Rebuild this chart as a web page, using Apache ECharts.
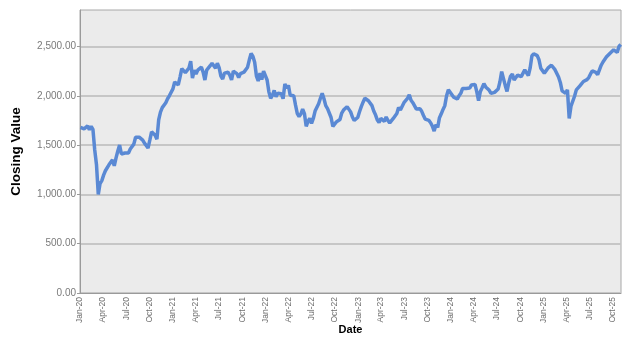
<!DOCTYPE html>
<html><head><meta charset="utf-8">
<script src="https://cdn.jsdelivr.net/npm/echarts@6/dist/echarts.min.js"></script>
<style>html,body{margin:0;padding:0;background:#fff}#c{width:632px;height:339px}</style>
</head><body><div id="c"></div>
<script>
// Weekly closing values (Fridays) starting 2020-01-03
const firstWeek = '2020-01-03';
const weeklyClose = [
1680,1690,1665,1675,1695,1655,1690,1660,1450,1300,
1000,1110,1140,1195,1240,1220,1300,1290,1350,1290,
1370,1440,1500,1410,1410,1420,1420,1420,1460,1480,
1510,1580,1578,1580,1585,1550,1520,1495,1470,1550,
1635,1620,1600,1560,1757,1835,1880,1892,1930,1970,
2000,1990,2070,2140,2150,2110,2190,2275,2270,2235,
2220,2280,2350,2180,2260,2220,2260,2260,2290,2240,
2160,2260,2260,2305,2330,2315,2280,2330,2285,2200,
2170,2230,2240,2238,2210,2160,2250,2262,2225,2185,
2225,2210,2240,2245,2290,2365,2430,2400,2340,2200,
2150,2230,2165,2250,2250,2160,2040,1975,2005,2055,
1990,2025,2010,2020,1970,2120,2078,2105,2005,1985,
2000,1905,1820,1790,1815,1865,1820,1690,1740,1770,
1720,1770,1845,1845,1920,1975,2025,1970,1900,1870,
1890,1780,1690,1680,1735,1735,1760,1825,1855,1873,
1890,1875,1837,1785,1750,1730,1780,1838,1890,1935,
1975,1982,1950,1957,1900,1845,1807,1755,1730,1770,
1750,1740,1785,1750,1725,1745,1770,1783,1820,1880,
1855,1865,1930,1912,1973,2010,1955,1930,1928,1865,
1852,1868,1842,1800,1763,1768,1750,1727,1693,1642,
1706,1680,1778,1817,1862,1900,2000,2060,2035,2010,
1985,1985,1967,2000,2025,2075,2055,2075,2062,2078,
2110,2100,2115,2040,1950,2044,2082,2123,2090,2073,
2055,2025,2018,2035,2044,2068,2140,2245,2250,2105,
2044,2132,2198,2220,2160,2140,2210,2222,2195,2210,
2262,2245,2205,2280,2404,2426,2425,2407,2365,2280,
2265,2230,2225,2280,2285,2310,2298,2265,2278,2190,
2135,2050,2050,2025,2060,1770,1895,1880,1995,2060,
2050,2100,2097,2145,2130,2164,2185,2222,2252,2250,
2238,2215,2225,2310,2343,2362,2395,2414,2432,2449,
2466,2460,2440,2500,2520
];
const tickDates = [
'2020-01-01','2020-04-01','2020-07-01','2020-10-01',
'2021-01-01','2021-04-01','2021-07-01','2021-10-01',
'2022-01-01','2022-04-01','2022-07-01','2022-10-01',
'2023-01-01','2023-04-01','2023-07-01','2023-10-01',
'2024-01-01','2024-04-01','2024-07-01','2024-10-01',
'2025-01-01','2025-04-01','2025-07-01','2025-10-01'
];
const tickLabels = [
'Jan-20','Apr-20','Jul-20','Oct-20','Jan-21','Apr-21','Jul-21','Oct-21',
'Jan-22','Apr-22','Jul-22','Oct-22','Jan-23','Apr-23','Jul-23','Oct-23',
'Jan-24','Apr-24','Jul-24','Oct-24','Jan-25','Apr-25','Jul-25','Oct-25'
];
const axisStart = '2020-01-01';
const axisEnd = '2025-11-01';
const yTicks = [0, 500, 1000, 1500, 2000, 2500];

function ts(s){ const p = s.split('-').map(Number); return Date.UTC(p[0], p[1]-1, p[2]); }
const DAY = 86400000;
const t0 = ts(firstWeek);
const seriesData = weeklyClose.map((v, i) => [t0 + i*7*DAY, v]);
const tickTs = tickDates.map(ts);
const labelMap = {};
tickTs.forEach((t, i) => { labelMap[t] = tickLabels[i]; });

const FONT = "Arial, 'Liberation Sans', sans-serif";
const chart = echarts.init(document.getElementById('c'), null, {renderer: 'canvas'});
chart.setOption({
  animation: false,
  backgroundColor: '#ffffff',
  grid: {
    left: 80, right: 11, top: 10, bottom: 46,
    outerBoundsMode: 'none', containLabel: false,
    show: true, backgroundColor: '#ebebeb', borderColor: '#a8a8a8', borderWidth: 1
  },
  xAxis: {
    type: 'value',
    min: ts(axisStart), max: ts(axisEnd),
    name: 'Date', nameLocation: 'middle', nameGap: 31, nameMoveOverlap: false,
    nameTextStyle: {fontFamily: FONT, fontWeight: 'bold', fontSize: 11, color: '#000'},
    axisLine: {show: true, lineStyle: {color: '#9a9a9a', width: 1}},
    axisTick: {show: false},
    splitLine: {show: false},
    axisLabel: {
      customValues: tickTs,
      rotate: 90, margin: 4,
      fontFamily: FONT, fontSize: 8.5, color: '#6e6e6e',
      formatter: v => labelMap[v] || ''
    }
  },
  yAxis: {
    type: 'value', min: 0, max: 2870, interval: 500,
    name: 'Closing Value', nameLocation: 'middle', nameGap: 57, nameMoveOverlap: false,
    nameTextStyle: {fontFamily: FONT, fontWeight: 'bold', fontSize: 13.5, color: '#000'},
    axisLine: {show: true, lineStyle: {color: '#9a9a9a', width: 1}},
    axisTick: {show: true, length: 3, customValues: yTicks, lineStyle: {color: '#9a9a9a'}},
    splitLine: {show: true, lineStyle: {color: '#c6c6c6', width: 2}},
    axisLabel: {
      customValues: yTicks,
      margin: 4, fontFamily: FONT, fontSize: 10, color: '#7a7a7a',
      formatter: v => v.toLocaleString('en-US', {minimumFractionDigits: 2, maximumFractionDigits: 2})
    }
  },
  series: [{
    type: 'line', data: seriesData, showSymbol: false, symbol: 'none',
    lineStyle: {color: '#5a89d4', width: 3.5}, clip: true
  }]
});
</script></body></html>
